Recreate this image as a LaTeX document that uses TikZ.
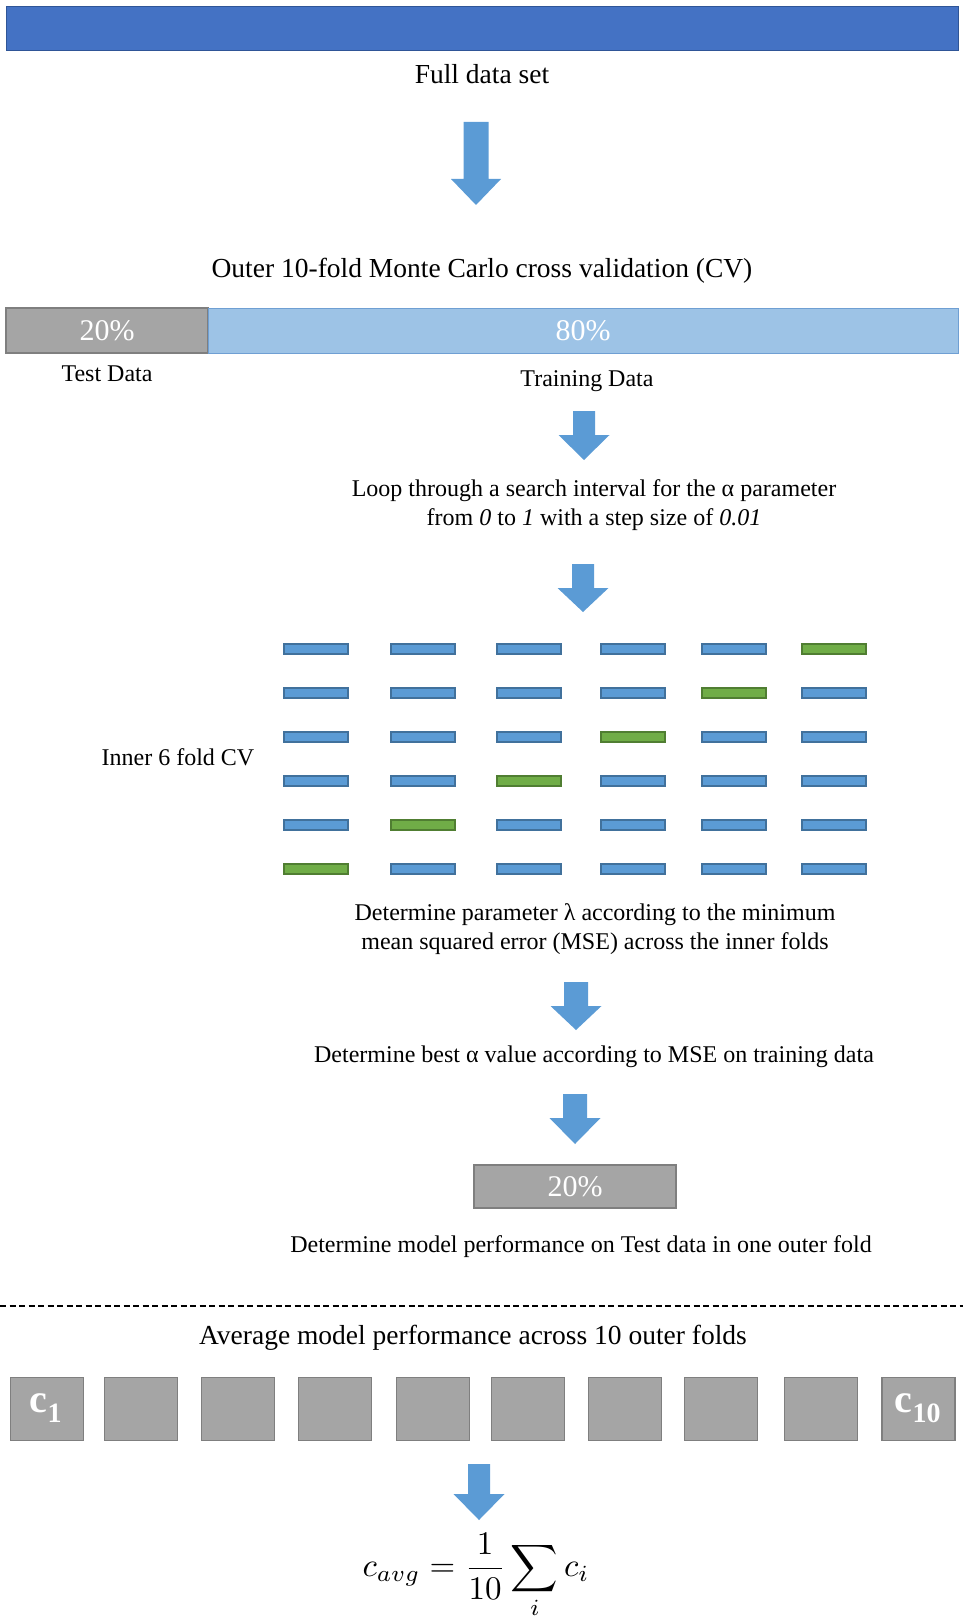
\documentclass[tikz,border=0pt]{standalone}
\usepackage{fontspec}
\usepackage{graphicx}
\setmainfont{Liberation Serif}
\definecolor{topblue}{HTML}{4472C4}
\definecolor{topblueline}{HTML}{2F5597}
\definecolor{arrowblue}{HTML}{5B9BD5}
\definecolor{lightblue}{HTML}{9DC3E6}
\definecolor{lightblueline}{HTML}{6F9FD3}
\definecolor{boxgray}{HTML}{A5A5A5}
\definecolor{boxgrayline}{HTML}{7F7F7F}
\definecolor{barblue}{HTML}{5B9BD5}
\definecolor{barblueline}{HTML}{41719C}
\definecolor{bargreen}{HTML}{70AD47}
\definecolor{bargreenline}{HTML}{507E32}
\newcommand{\blkarrow}[6]{%
  \fill[arrowblue] ({#1-#5/2},{#2}) -- ({#1+#5/2},{#2}) -- ({#1+#5/2},{#3}) -- ({#1+#6/2},{#3})
    -- ({#1},{#4}) -- ({#1-#6/2},{#3}) -- ({#1-#5/2},{#3}) -- cycle;}
\tikzset{
  title/.style={font=\fontsize{27.5}{33}\selectfont, inner sep=0pt},
  body/.style={font=\fontsize{24}{29}\selectfont, inner sep=0pt, align=center},
  pct/.style={font=\fontsize{30}{36}\selectfont, text=white, inner sep=0pt},
  graybox/.style={draw=boxgrayline, fill=boxgray, line width=1.5pt},
  foldbar/.style={rectangle, minimum width=64pt, minimum height=10pt, inner sep=0pt, line width=1.5pt},
  cbox/.style={rectangle, draw=boxgrayline, fill=boxgray, line width=1.5pt, minimum width=73pt, minimum height=63pt, inner sep=0pt},
  clabel/.style={font=\fontsize{40}{44}\selectfont\bfseries, text=white, inner sep=0pt}
}
\begin{document}
\begin{tikzpicture}[x=1pt,y=-1pt]
\useasboundingbox (0,0) rectangle (963,1621);
% full data set
\draw[topblueline, fill=topblue, line width=1pt] (6,7) rectangle (958,51);
\node[title] (full) at (482,74) {Full data set};
\blkarrow{476}{122}{179}{205}{25}{50}
\node[title] (outer) at (482,271) {Outer 10-fold Monte Carlo cross validation (CV)};
% split bar
\draw[graybox] (6,308) rectangle (208,353);
\draw[draw=lightblueline, fill=lightblue, line width=1pt] (208,308) rectangle (958,353);
\node[pct] (p20) at (107,331) {20\%};
\node[pct] (p80) at (583,331) {80\%};
\node[body] (test) at (107,374) {Test Data};
\node[body] (train) at (587,381) {Training Data};
\blkarrow{584}{411}{435}{460}{22}{51}
\node[body] (loop) at (594,505) {Loop through a search interval for the α parameter\\from \textit{0} to \textit{1} with a step size of \textit{0.01}};
\blkarrow{583}{564}{588}{612}{22}{51}
% inner folds
\node[body] (inner) at (178,757) {Inner 6 fold CV};
\foreach \r in {1,...,6}{
  \foreach \c/\x in {1/316,2/423,3/529,4/633,5/734,6/834}{
    \ifnum\numexpr\r+\c\relax=7
      \node[foldbar, fill=bargreen, draw=bargreenline] (b\r\c) at (\x,{649+44*(\r-1)}) {};
    \else
      \node[foldbar, fill=barblue, draw=barblueline] (b\r\c) at (\x,{649+44*(\r-1)}) {};
    \fi
  }
}
\node[body] (lambda) at (595,929) {Determine parameter λ according to the minimum\\mean squared error (MSE) across the inner folds};
\blkarrow{576}{982}{1006}{1030}{24}{51}
\node[body] (best) at (594,1057) {Determine best α value according to MSE on training data};
\blkarrow{575}{1094}{1118}{1144}{24}{51}
\draw[graybox] (474,1165) rectangle (676,1208);
\node[pct] (p20b) at (575,1187) {20\%};
\node[body] (perf) at (581,1247) {Determine model performance on Test data in one outer fold};
% dashed separator
\draw[line width=1.5pt, dash pattern=on 6pt off 3.5pt] (0,1306) -- (963,1306);
\node[title] (avg) at (473,1338) {Average model performance across 10 outer folds};
\foreach \i/\x in {1/47,2/141,3/238,4/335,5/433,6/528,7/625,8/721,9/821,10/918.5}{
  \node[cbox] (c\i) at (\x,1409) {};
}
\node[clabel] (lc1) at (46,1408) {c\textsubscript{1}};
\node[clabel] (lc10) at (918,1408) {c\textsubscript{10}};
\blkarrow{479}{1464}{1494}{1520}{22}{51}
\node[inner sep=0pt] (formula) at (476,1576) {\scalebox{3.3}{$\displaystyle c_{avg}=\frac{1}{10}\sum_i c_i$}};
\end{tikzpicture}
\end{document}
